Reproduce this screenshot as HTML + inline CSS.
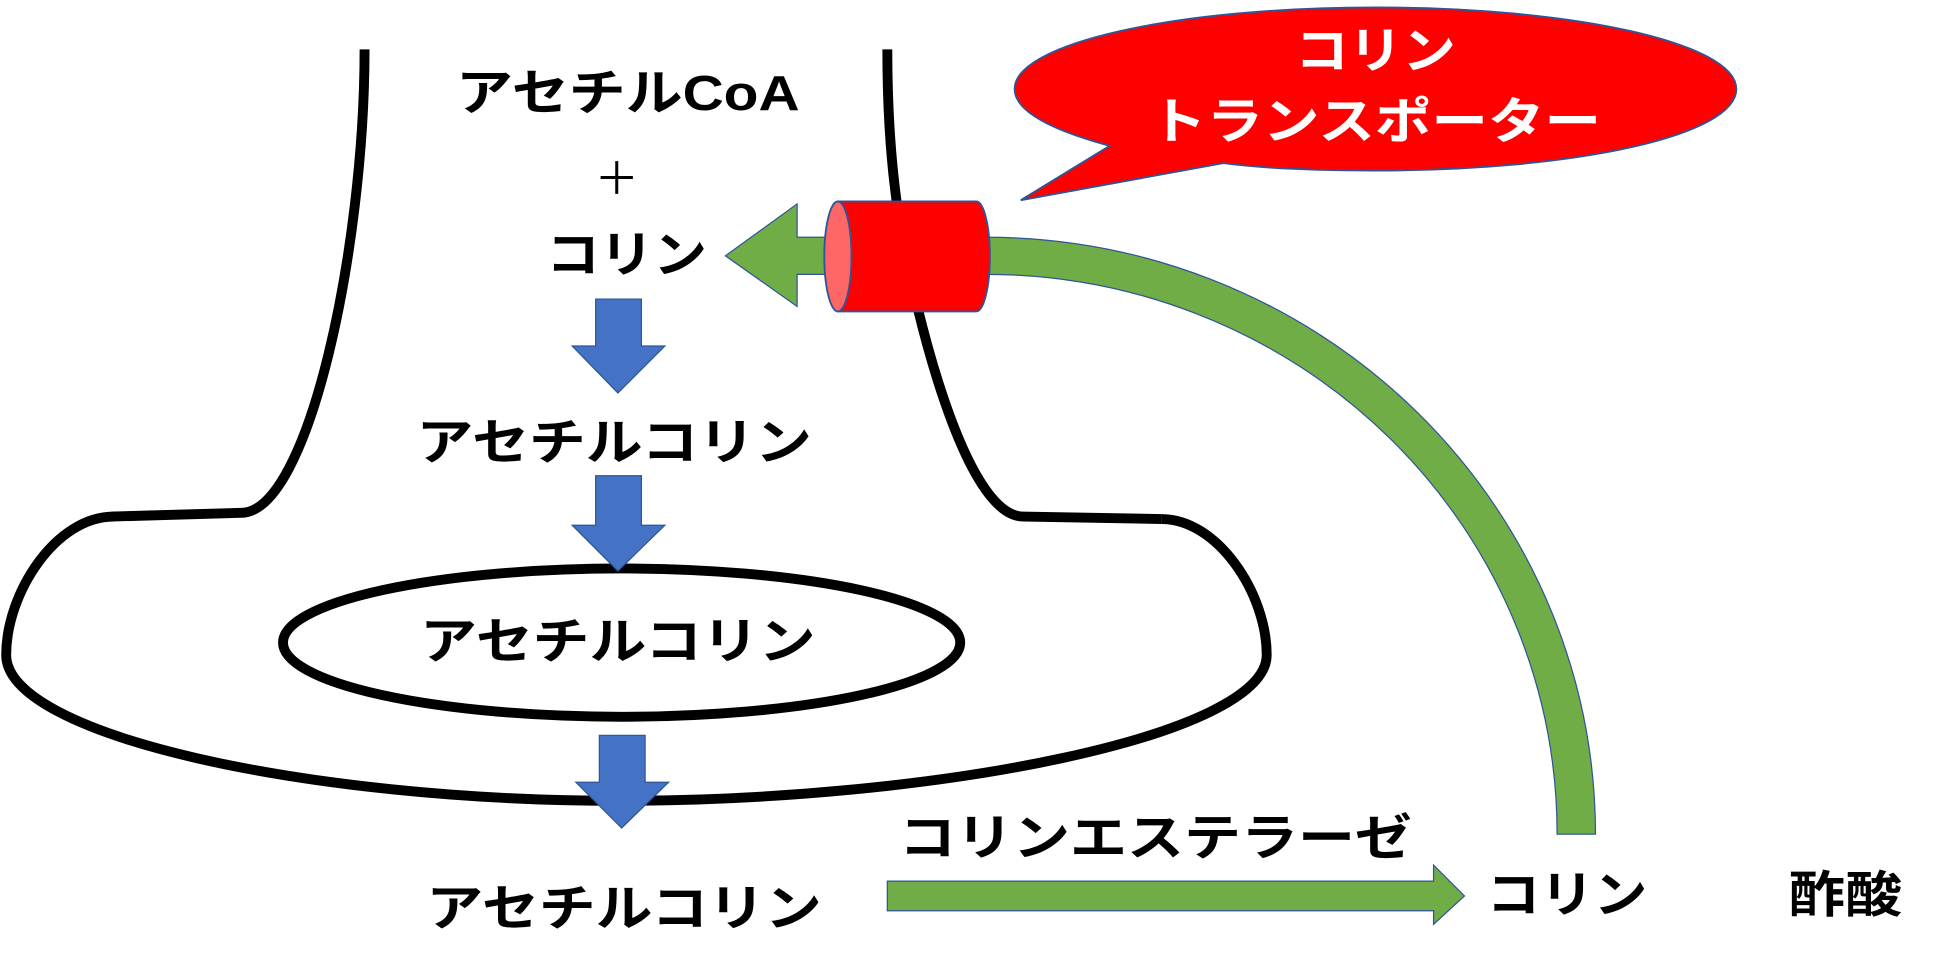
<!DOCTYPE html>
<html><head><meta charset="utf-8"><style>
html,body{margin:0;padding:0;background:#fff;}
svg{display:block;}
text{font-family:"Liberation Sans","Noto Sans CJK JP",sans-serif;font-weight:bold;}
</style></head><body>
<svg width="1939" height="980" viewBox="0 0 1569 793" preserveAspectRatio="none" xmlns="http://www.w3.org/2000/svg">
<!-- neuron outline -->
<path d="M295,40 C295,200 250,415 195,415 L90,418" fill="none" stroke="#000" stroke-width="8"/>
<path d="M92,418 C45,418 5,480 5,530 C5,595 250,648 500,648 C760,648 1025,595 1025,530 C1025,480 985,420 940,420" fill="none" stroke="#000" stroke-width="8"/>
<path d="M940,420 L828,418 C780,418 740,250 728,180 C720,130 718,80 718,40" fill="none" stroke="#000" stroke-width="8"/>
<ellipse cx="503" cy="520" rx="274" ry="60" fill="none" stroke="#000" stroke-width="8"/>
<!-- blue arrows -->
<polygon points="482,242 519,242 519,280 538,280 500,318 463,280 482,280" fill="#4472c4" stroke="#2f5597" stroke-width="1"/>
<polygon points="482,385 519,385 519,425 538,425 500,462 463,425 482,425" fill="#4472c4" stroke="#2f5597" stroke-width="1"/>
<polygon points="485,595 522,595 522,633 541,633 503,670 466,633 485,633" fill="#4472c4" stroke="#2f5597" stroke-width="1"/>
<!-- green horizontal arrow -->
<polygon points="718,713 1160,713 1160,700 1185,725 1160,748 1160,737 718,737" fill="#70ad47" stroke="#2f5597" stroke-width="1"/>
<!-- green curved arrow -->
<path d="M1260,675 L1291,675 A493,483 0 0 0 798,192 L645,192 L645,165 L587,207 L645,248 L645,222 L798,222 A462,453 0 0 1 1260,675 Z" fill="#70ad47" stroke="#2f5597" stroke-width="1"/>
<!-- cylinder -->
<path d="M678,163 L790,163 A11,44.5 0 0 1 790,252 L678,252 Z" fill="#ff0000" stroke="#2f5597" stroke-width="1.5"/>
<ellipse cx="678" cy="207.5" rx="11" ry="44.5" fill="#ff6666" stroke="#2f5597" stroke-width="1.5"/>
<!-- speech bubble -->
<path d="M898,118 C850,105 821,90 821,72 C821,35 952,6 1113,6 C1274,6 1405,35 1405,72 C1405,110 1274,138 1113,138 C1060,138 1020,136 990,132 L826,162 Z" fill="#ff0000" stroke="#2f5597" stroke-width="1.5"/>
<text x="1113" y="55" text-anchor="middle" font-size="40" fill="#fff" textLength="130" lengthAdjust="spacingAndGlyphs">コリン</text>
<text x="1113" y="112" text-anchor="middle" font-size="40" fill="#fff" textLength="365" lengthAdjust="spacingAndGlyphs">トランスポーター</text>
<!-- labels -->
<text x="508" y="89" text-anchor="middle" font-size="40" textLength="278" lengthAdjust="spacingAndGlyphs">アセチルCoA</text>
<text x="499" y="157" text-anchor="middle" font-size="36" style="font-weight:normal">＋</text>
<text x="507" y="220" text-anchor="middle" font-size="40" textLength="130" lengthAdjust="spacingAndGlyphs">コリン</text>
<text x="497" y="372" text-anchor="middle" font-size="40" textLength="320" lengthAdjust="spacingAndGlyphs">アセチルコリン</text>
<text x="500" y="533" text-anchor="middle" font-size="40" textLength="320" lengthAdjust="spacingAndGlyphs">アセチルコリン</text>
<text x="505" y="749" text-anchor="middle" font-size="40" textLength="320" lengthAdjust="spacingAndGlyphs">アセチルコリン</text>
<text x="935" y="692" text-anchor="middle" font-size="40" textLength="415" lengthAdjust="spacingAndGlyphs">コリンエステラーゼ</text>
<text x="1268" y="738" text-anchor="middle" font-size="40" textLength="130" lengthAdjust="spacingAndGlyphs">コリン</text>
<text x="1493" y="738" text-anchor="middle" font-size="40" textLength="92" lengthAdjust="spacingAndGlyphs">酢酸</text>
</svg>
</body></html>
